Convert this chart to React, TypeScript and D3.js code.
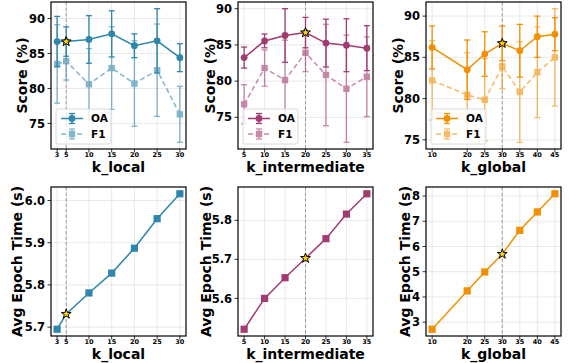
import React from "react";
import * as d3 from "d3";

// ---- data ----
const kLocal = [3, 5, 10, 15, 20, 25, 30];
const localOA = [86.7, 86.7, 87.0, 87.8, 86.1, 86.8, 84.4];
const localOAErr = [3.6, 2.1, 3.4, 3.3, 1.7, 4.6, 2.0];
const localF1 = [83.5, 83.9, 80.6, 82.9, 80.7, 82.6, 76.3];
const localF1Err = [5.6, 2.7, 5.1, 5.9, 6.1, 6.6, 4.0];
const localTime = [5.695, 5.731, 5.781, 5.828, 5.887, 5.957, 6.016];

const kInter = [5, 10, 15, 20, 25, 30, 35];
const interOA = [83.25, 85.55, 86.3, 86.7, 85.25, 84.95, 84.55];
const interOAErr = [1.45, 0.95, 3.7, 2.1, 3.3, 3.65, 3.1];
const interF1 = [76.8, 81.8, 80.15, 83.9, 80.85, 78.95, 80.6];
const interF1Err = [2.7, 2.5, 5.5, 2.6, 7.0, 7.4, 5.5];
const interTime = [5.521, 5.6, 5.653, 5.703, 5.753, 5.816, 5.868];

const kGlobal = [10, 20, 25, 30, 35, 40, 45];
const globalOA = [86.2, 83.5, 85.4, 86.7, 85.8, 87.5, 87.8];
const globalOAErr = [2.6, 3.6, 2.7, 2.1, 3.2, 2.5, 2.0];
const globalF1 = [82.2, 80.45, 79.85, 83.9, 80.8, 83.2, 85.0];
const globalF1Err = [4.8, 5.1, 5.0, 2.7, 6.1, 5.5, 5.9];
const globalTime = [2.72, 4.24, 4.99, 5.7, 6.64, 7.37, 8.09];

const selectedK = [5, 20, 30];
const xLabels = ["k_local", "k_intermediate", "k_global"];
const colors = ["#2E86AB", "#A23B72", "#F18F01"];
const scoreTicks = [
  [75, 80, 85, 90],
  [75, 80, 85, 90],
  [75, 80, 85, 90],
];
const timeTicks = [
  [5.7, 5.8, 5.9, 6.0],
  [5.6, 5.7, 5.8],
  [3, 4, 5, 6, 7, 8],
];
const timeFmt = [".1f", ".1f", "d"];

const groups = [
  { k: kLocal, oa: localOA, oaErr: localOAErr, f1: localF1, f1Err: localF1Err, time: localTime },
  { k: kInter, oa: interOA, oaErr: interOAErr, f1: interF1, f1Err: interF1Err, time: interTime },
  { k: kGlobal, oa: globalOA, oaErr: globalOAErr, f1: globalF1, f1Err: globalF1Err, time: globalTime },
];

// ---- layout ----
const W = 569;
const H = 363;
const colX = [[51, 186], [238, 373], [426, 561]];
const rowY = [[2, 149], [187, 336]];
const FONT = "DejaVu Sans, sans-serif";

function padDomain(lo: number, hi: number): [number, number] {
  const r = hi - lo;
  return [lo - 0.05 * r, hi + 0.05 * r];
}

const starPath = d3.symbol().type(d3.symbolStar).size(30)() as string;

function ErrSeries({ xs, ys, errs, x, y, color, opacity, dashed, square }: any) {
  const line = d3.line<number>().x((_, i) => x(xs[i])).y((v) => y(v));
  return (
    <g opacity={opacity}>
      {xs.map((k: number, i: number) => {
        const cx = x(k);
        const y1 = y(ys[i] + errs[i]);
        const y2 = y(ys[i] - errs[i]);
        return (
          <g key={i} stroke={color} strokeWidth={1.3}>
            <line x1={cx} x2={cx} y1={y1} y2={y2} />
            <line x1={cx - 3} x2={cx + 3} y1={y1} y2={y1} />
            <line x1={cx - 3} x2={cx + 3} y1={y2} y2={y2} />
          </g>
        );
      })}
      <path d={line(ys) as string} fill="none" stroke={color} strokeWidth={1.5} strokeDasharray={dashed ? "5,3" : undefined} />
      {xs.map((k: number, i: number) =>
        square ? (
          <rect key={i} x={x(k) - 3.2} y={y(ys[i]) - 3.2} width={6.4} height={6.4} fill={color} />
        ) : (
          <circle key={i} cx={x(k)} cy={y(ys[i])} r={3.4} fill={color} />
        )
      )}
    </g>
  );
}

function Frame({ x, y, xTicks, yTicks, yFmt, x0, x1, y0, y1, sel, xLabel, yLabel, yLabelOff }: any) {
  return (
    <g>
      {xTicks.map((t: number) => (
        <line key={"gx" + t} x1={x(t)} x2={x(t)} y1={y0} y2={y1} stroke="#b0b0b0" strokeOpacity={0.35} strokeWidth={0.8} />
      ))}
      {yTicks.map((t: number) => (
        <line key={"gy" + t} x1={x0} x2={x1} y1={y(t)} y2={y(t)} stroke="#b0b0b0" strokeOpacity={0.35} strokeWidth={0.8} />
      ))}
      <line x1={x(sel)} x2={x(sel)} y1={y0} y2={y1} stroke="#888" strokeWidth={1} strokeDasharray="3.5,2" strokeOpacity={0.8} />
      {xTicks.map((t: number) => (
        <g key={"tx" + t}>
          <line x1={x(t)} x2={x(t)} y1={y1} y2={y1 + 3.5} stroke="#000" strokeWidth={0.8} />
          <text x={x(t)} y={y1 + 8.2} textAnchor="middle" fontSize={6.5} fontWeight="bold" fontFamily={FONT}>
            {t}
          </text>
        </g>
      ))}
      {yTicks.map((t: number) => (
        <g key={"ty" + t}>
          <line x1={x0 - 3.5} x2={x0} y1={y(t)} y2={y(t)} stroke="#000" strokeWidth={0.8} />
          <text x={x0 - 6} y={y(t)} dy="0.36em" textAnchor="end" fontSize={11.5} fontWeight="bold" fontFamily={FONT}>
            {d3.format(yFmt)(t)}
          </text>
        </g>
      ))}
      <text x={(x0 + x1) / 2} y={y1 + 22.5} textAnchor="middle" fontSize={14} fontWeight="bold" fontFamily={FONT}>
        {xLabel}
      </text>
      <text
        transform={`translate(${x0 - yLabelOff},${(y0 + y1) / 2}) rotate(-90)`}
        textAnchor="middle"
        dominantBaseline="central"
        fontSize={14}
        fontWeight="bold"
        fontFamily={FONT}
      >
        {yLabel}
      </text>
    </g>
  );
}

function ScorePanel({ idx }: { idx: number }) {
  const g = groups[idx];
  const [x0, x1] = colX[idx];
  const [y0, y1] = rowY[0];
  const xd = padDomain(d3.min(g.k)!, d3.max(g.k)!);
  const x = d3.scaleLinear().domain(xd).range([x0, x1]);
  const lo = d3.min([...g.oa.map((v, i) => v - g.oaErr[i]), ...g.f1.map((v, i) => v - g.f1Err[i])])!;
  const hi = d3.max([...g.oa.map((v, i) => v + g.oaErr[i]), ...g.f1.map((v, i) => v + g.f1Err[i])])!;
  const y = d3.scaleLinear().domain(padDomain(lo, hi)).range([y1, y0]);
  const color = colors[idx];
  const si = g.k.indexOf(selectedK[idx]);
  const lx = x0 + 5;
  const ly = y1 - 40;
  return (
    <g>
      <defs>
        <clipPath id={"c" + idx}>
          <rect x={x0} y={y0} width={x1 - x0} height={y1 - y0} />
        </clipPath>
      </defs>
      <Frame x={x} y={y} xTicks={g.k} yTicks={scoreTicks[idx]} yFmt="d" x0={x0} x1={x1} y0={y0} y1={y1}
        sel={selectedK[idx]} xLabel={xLabels[idx]} yLabel="Score (%)" yLabelOff={idx === 0 ? 29 : 28} />
      <g clipPath={`url(#c${idx})`}>
        <ErrSeries xs={g.k} ys={g.f1} errs={g.f1Err} x={x} y={y} color={color} opacity={0.6} dashed square />
        <ErrSeries xs={g.k} ys={g.oa} errs={g.oaErr} x={x} y={y} color={color} opacity={1} />
        <path d={starPath} transform={`translate(${x(g.k[si])},${y(g.oa[si])})`} fill="#FFD700" stroke="#000" strokeWidth={1} />
      </g>
      {/* legend */}
      <rect x={lx} y={ly} width={55} height={35} rx={2} fill="#fff" fillOpacity={0.8} stroke="#d0d0d0" strokeWidth={0.8} />
      {[0, 1].map((j) => {
        const cy = ly + 9.5 + j * 15.5;
        const op = j === 0 ? 1 : 0.6;
        return (
          <g key={j}>
            <g opacity={op} stroke={color}>
              <line x1={lx + 5} x2={lx + 27} y1={cy} y2={cy} strokeWidth={1.5} strokeDasharray={j === 1 ? "5,3" : undefined} />
              <line x1={lx + 16} x2={lx + 16} y1={cy - 5} y2={cy + 5} strokeWidth={1.3} />
              <line x1={lx + 13} x2={lx + 19} y1={cy - 5} y2={cy - 5} strokeWidth={1.3} />
              <line x1={lx + 13} x2={lx + 19} y1={cy + 5} y2={cy + 5} strokeWidth={1.3} />
              {j === 0 ? (
                <circle cx={lx + 16} cy={cy} r={3.4} fill={color} stroke="none" />
              ) : (
                <rect x={lx + 12.8} y={cy - 3.2} width={6.4} height={6.4} fill={color} stroke="none" />
              )}
            </g>
            <text x={lx + 35} y={cy} dy="0.36em" fontSize={10.5} fontWeight="bold" fontFamily={FONT}>
              {j === 0 ? "OA" : "F1"}
            </text>
          </g>
        );
      })}
      <rect x={x0} y={y0} width={x1 - x0} height={y1 - y0} fill="none" stroke="#000" strokeWidth={1.2} />
    </g>
  );
}

function TimePanel({ idx }: { idx: number }) {
  const g = groups[idx];
  const [x0, x1] = colX[idx];
  const [y0, y1] = rowY[1];
  const x = d3.scaleLinear().domain(padDomain(d3.min(g.k)!, d3.max(g.k)!)).range([x0, x1]);
  const y = d3.scaleLinear().domain(padDomain(d3.min(g.time)!, d3.max(g.time)!)).range([y1, y0]);
  const color = colors[idx];
  const si = g.k.indexOf(selectedK[idx]);
  const line = d3.line<number>().x((_, i) => x(g.k[i])).y((v) => y(v));
  const offs = [34, 32.5, 21.5];
  return (
    <g>
      <Frame x={x} y={y} xTicks={g.k} yTicks={timeTicks[idx]} yFmt={timeFmt[idx]} x0={x0} x1={x1} y0={y0} y1={y1}
        sel={selectedK[idx]} xLabel={xLabels[idx]} yLabel="Avg Epoch Time (s)" yLabelOff={offs[idx]} />
      <path d={line(g.time) as string} fill="none" stroke={color} strokeWidth={1.5} />
      {g.k.map((k, i) =>
        i === si ? null : (
          <rect key={i} x={x(k) - 3.6} y={y(g.time[i]) - 3.6} width={7.2} height={7.2} fill={color} />
        )
      )}
      <path d={starPath} transform={`translate(${x(g.k[si])},${y(g.time[si])})`} fill="#FFD700" stroke="#000" strokeWidth={1} />
      <rect x={x0} y={y0} width={x1 - x0} height={y1 - y0} fill="none" stroke="#000" strokeWidth={1.2} />
    </g>
  );
}

export default function App() {
  return (
    <svg width={W} height={H} style={{ position: "absolute", left: 0, top: 0, background: "#fff" }}>
      {[0, 1, 2].map((i) => (
        <ScorePanel key={"s" + i} idx={i} />
      ))}
      {[0, 1, 2].map((i) => (
        <TimePanel key={"t" + i} idx={i} />
      ))}
    </svg>
  );
}
